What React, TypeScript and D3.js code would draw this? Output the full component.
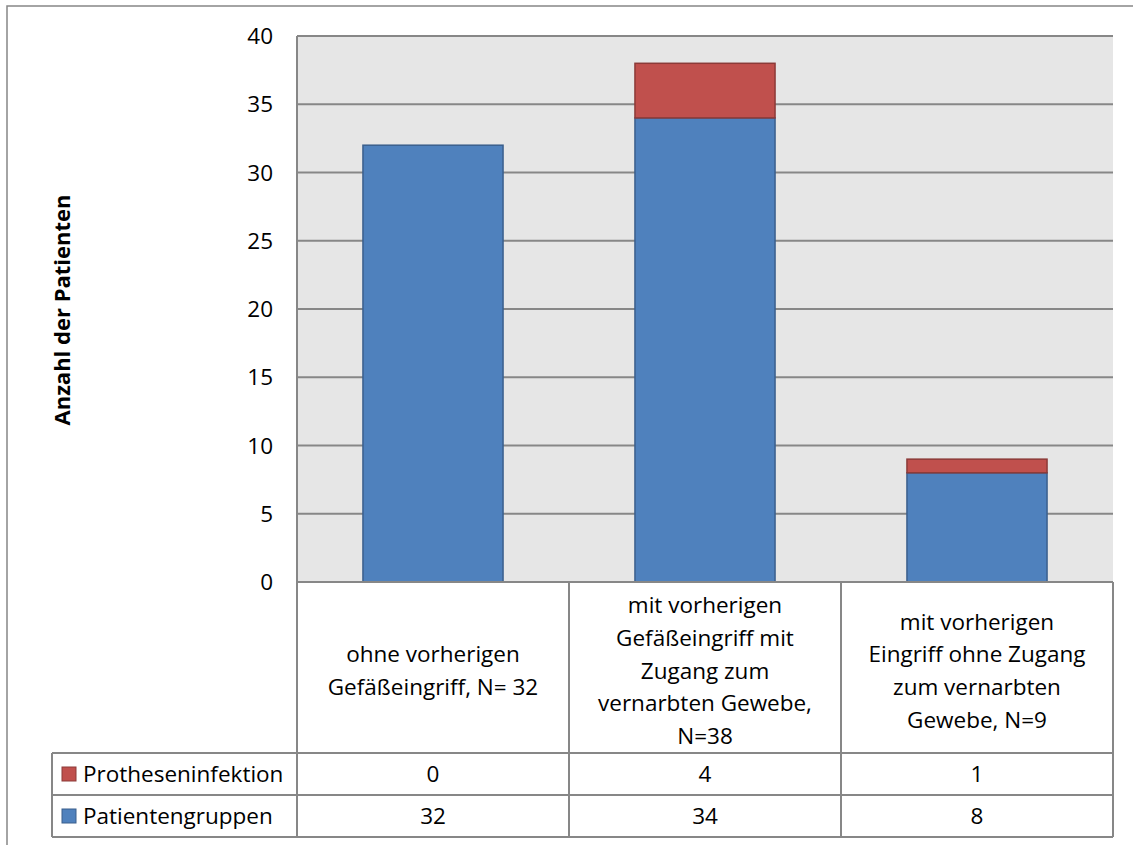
import React from "react";
import * as d3 from "d3";

// Patient groups and their counts
const categories: string[][] = [
  ["ohne vorherigen", "Gefäßeingriff, N= 32"],
  ["mit vorherigen", "Gefäßeingriff mit", "Zugang zum", "vernarbten Gewebe,", "N=38"],
  ["mit vorherigen", "Eingriff ohne Zugang", "zum vernarbten", "Gewebe, N=9"],
];
const patientengruppen = [32, 34, 8];
const protheseninfektion = [0, 4, 1];
const yTicks = [0, 5, 10, 15, 20, 25, 30, 35, 40];

const series = [
  { name: "Protheseninfektion", values: protheseninfektion, fill: "#C0504D", stroke: "#8C3A38" },
  { name: "Patientengruppen", values: patientengruppen, fill: "#4F81BD", stroke: "#3A5F8C" },
];

const FONT = "'Open Sans', sans-serif";
const GRID = "#878787";
const FS = 22.5;

export default function App() {
  const W = 1133, H = 845;
  const left = 297, right = 1113, top = 36, bottom = 582;
  const tableLeft = 52;
  const headerBottom = 753;
  const rowH = 42;

  const x = d3.scaleBand<number>().domain([0, 1, 2]).range([left, right]).paddingInner(0.485).paddingOuter(0.2425);
  const y = d3.scaleLinear().domain([0, 40]).range([bottom, top]);
  const colW = (right - left) / 3;
  const colX = (i: number) => left + i * colW;

  // stacked: Patientengruppen at bottom, Protheseninfektion on top
  const stacked = d3.stack<number>()
    .keys(["p", "i"])
    .value((i, k) => (k === "p" ? patientengruppen[i] : protheseninfektion[i]))([0, 1, 2]);

  const rows = series; // table order: infection row first, then groups

  return (
    <svg width={W} height={H} style={{ display: "block", position: "absolute", left: 0, top: 0 }}>
      <rect x={0} y={0} width={W} height={H} fill="#fff" />
      {/* chart frame */}
      <rect x={7} y={6} width={W + 20} height={H + 20} fill="none" stroke={GRID} strokeWidth={1.5} />

      {/* plot area */}
      <rect x={left} y={top} width={right - left} height={bottom - top} fill="#E6E6E6" />
      {yTicks.map((t) => (
        <line key={t} x1={left} x2={right} y1={y(t)} y2={y(t)} stroke={GRID} strokeWidth={2} />
      ))}
      {yTicks.map((t) => (
        <text key={"l" + t} x={273} y={y(t)} dy="0.36em" textAnchor="end" fontFamily={FONT} fontSize={FS} fill="#000">
          {t}
        </text>
      ))}

      {/* bars */}
      {stacked.map((layer, li) => {
        const s = li === 0 ? series[1] : series[0];
        return layer.map((d, i) => {
          if (d[1] - d[0] <= 0) return null;
          return (
            <rect
              key={li + "-" + i}
              x={x(i)!}
              width={x.bandwidth()}
              y={y(d[1])}
              height={y(d[0]) - y(d[1])}
              fill={s.fill}
              stroke={s.stroke}
              strokeWidth={1.5}
            />
          );
        });
      })}

      {/* axis line */}
      <line x1={left} x2={left} y1={top} y2={bottom} stroke={GRID} strokeWidth={2} />

      {/* y axis title */}
      <text
        transform={`translate(70,310) rotate(-90)`}
        textAnchor="middle"
        fontFamily={FONT}
        fontWeight="bold"
        fontSize={22}
        fill="#000"
      >
        Anzahl der Patienten
      </text>

      {/* data table */}
      <g stroke={GRID} strokeWidth={2} fill="none">
        <line x1={left} x2={right} y1={bottom} y2={bottom} />
        {[0, 1, 2, 3].map((i) => (
          <line key={"v" + i} x1={colX(i)} x2={colX(i)} y1={bottom} y2={headerBottom + 2 * rowH} />
        ))}
        {[0, 1, 2].map((r) => (
          <line key={"h" + r} x1={tableLeft} x2={right} y1={headerBottom + r * rowH} y2={headerBottom + r * rowH} />
        ))}
        <line x1={tableLeft} x2={tableLeft} y1={headerBottom} y2={headerBottom + 2 * rowH} />
      </g>

      {categories.map((lines, i) => {
        const cx = colX(i) + colW / 2;
        const lh = 32.6;
        const cy = (bottom + headerBottom) / 2 + 3;
        const y0 = cy - ((lines.length - 1) * lh) / 2;
        return (
          <text key={"c" + i} textAnchor="middle" fontFamily={FONT} fontSize={FS} fill="#000">
            {lines.map((ln, k) => (
              <tspan key={k} x={cx} y={y0 + k * lh} dy="0.36em">
                {ln}
              </tspan>
            ))}
          </text>
        );
      })}

      {rows.map((s, r) => {
        const ry = headerBottom + r * rowH + rowH / 2;
        return (
          <g key={s.name}>
            <rect x={62} y={ry - 7} width={14} height={14} fill={s.fill} stroke={s.stroke} strokeWidth={1} />
            <text x={83} y={ry} dy="0.36em" fontFamily={FONT} fontSize={FS} fill="#000">
              {s.name}
            </text>
            {s.values.map((v, i) => (
              <text key={i} x={colX(i) + colW / 2} y={ry} dy="0.36em" textAnchor="middle" fontFamily={FONT} fontSize={FS} fill="#000">
                {v}
              </text>
            ))}
          </g>
        );
      })}
    </svg>
  );
}
